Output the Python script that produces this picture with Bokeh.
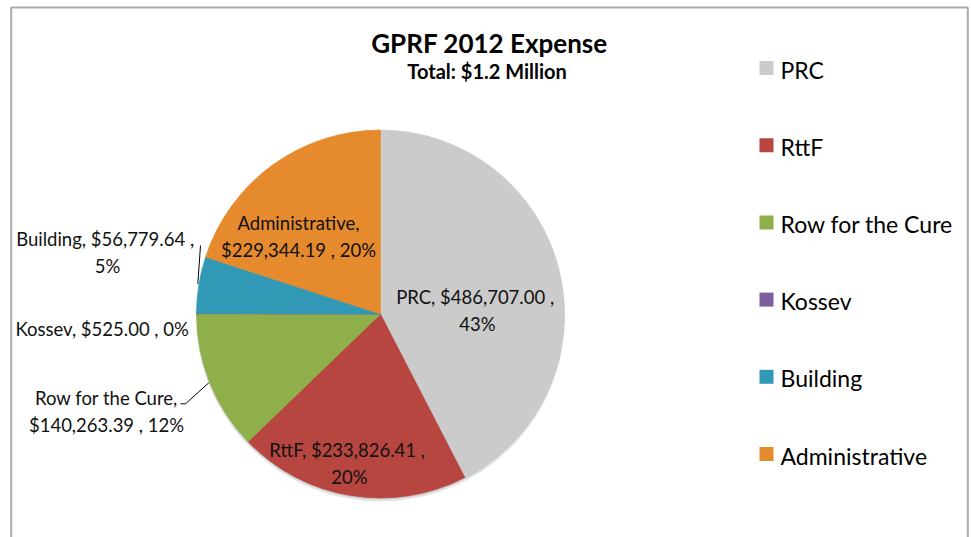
import math
from bokeh.plotting import figure
from bokeh.models import Range1d, ColumnDataSource
from bokeh.core.properties import value
from bokeh.embed import file_html
from bokeh.resources import INLINE

# ---- data ----
categories = ["PRC", "RttF", "Row for the Cure", "Kossev", "Building", "Administrative"]
amounts = [486707.00, 233826.41, 140263.39, 525.00, 56779.64, 229344.19]
pct_labels = ["43%", "20%", "12%", "0%", "5%", "20%"]
colors = ["#CBCBCB", "#B6463F", "#8EAF4A", "#7D5F9E", "#3199B5", "#E68A2E"]
title_text = "GPRF 2012 Expense"
subtitle_text = "Total:  $1.2 Million"

# ---- layout (page pixels) ----
W, H = 971, 537
OX, OY = 0, 0
def dx(px):
    return px - OX
def dy(py):
    return (OY + H) - py

CX, CY, R = 380, 313.5, 184
# label block centres (page px) and line-break style per slice
label_pos = [(477, 310), (349, 463), (106, 411), (104, 328), (107, 252), (298, 236)]
label_break = ["value", "value", "name", "none", "value", "name"]
leaders = [
    [(200, 245), (197.3, 283.3)],
    [(180, 403.3), (185, 403.3), (208.3, 382.3)],
]
FONT = "Lato"

p = figure(width=W, height=H, x_range=Range1d(0, W), y_range=Range1d(0, H),
           output_backend="svg", toolbar_location=None, min_border=0)
p.axis.visible = False
p.grid.visible = False
p.outline_line_color = None
p.background_fill_color = "white"
p.border_fill_color = "white"

# chart border (left, top, right)
p.line([dx(10.7), dx(10.7), dx(967.3), dx(967.3)], [0, dy(7), dy(7), 0],
       line_color="#ABABAB", line_width=2)

# wedge angles: start at 12 o'clock, clockwise
total = sum(amounts)
starts, ends = [], []
cum = 0.0
for a in amounts:
    starts.append(math.pi / 2 - 2 * math.pi * cum / total)
    cum += a
    ends.append(math.pi / 2 - 2 * math.pi * cum / total)

# soft shadow
p.circle(x=[dx(CX)], y=[dy(CY) - 3.0], radius=R + 0.5, fill_color="black",
         fill_alpha=0.10, line_color=None)
p.circle(x=[dx(CX)], y=[dy(CY) - 1.5], radius=R, fill_color="black",
         fill_alpha=0.12, line_color=None)

src = ColumnDataSource(dict(x=[dx(CX)] * len(amounts), y=[dy(CY)] * len(amounts),
                            start=starts, end=ends, color=colors, name=categories))
p.wedge(x="x", y="y", radius=R, start_angle="start", end_angle="end",
        direction="clock", fill_color="color", line_color="color", line_width=0.6,
        source=src)

# data labels
texts, lx, ly = [], [], []
for name, amt, pct, brk, (px, py) in zip(categories, amounts, pct_labels, label_break, label_pos):
    money = "${:,.2f}".format(amt)
    if brk == "value":
        t = f"{name},  {money} ,\n{pct}"
    elif brk == "name":
        t = f"{name},\n{money} , {pct}"
    else:
        t = f"{name},  {money} , {pct}"
    texts.append(t)
    lx.append(dx(px))
    ly.append(dy(py))
p.text(x=lx, y=ly, text=texts, text_align="center", text_baseline="middle",
       text_font=value(FONT), text_font_size="18.5px", text_color="#111111",
       text_line_height=1.22)

for pts in leaders:
    p.line([dx(a) for a, b in pts], [dy(b) for a, b in pts], line_color="black", line_width=1)

# title
p.text(x=[dx(489)], y=[dy(42)], text=[title_text], text_align="center",
       text_baseline="middle", text_font=value(FONT), text_font_style="bold",
       text_font_size="26px", text_color="black")
p.text(x=[dx(489)], y=[dy(70)], text=[subtitle_text], text_align="center",
       text_baseline="middle", text_font=value(FONT), text_font_style="bold",
       text_font_size="20px", text_color="black")

# legend
n = len(categories)
ys = [dy(67.5 + i * 77.2) for i in range(n)]
p.rect(x=[dx(766)] * n, y=ys, width=14, height=14, fill_color=colors, line_color=None)
p.text(x=[dx(780)] * n, y=[v - 1.5 for v in ys], text=categories, text_align="left",
       text_baseline="middle", text_font=value(FONT), text_font_size="23px",
       text_color="black")

open("out.html", "w").write(file_html(p, INLINE))
